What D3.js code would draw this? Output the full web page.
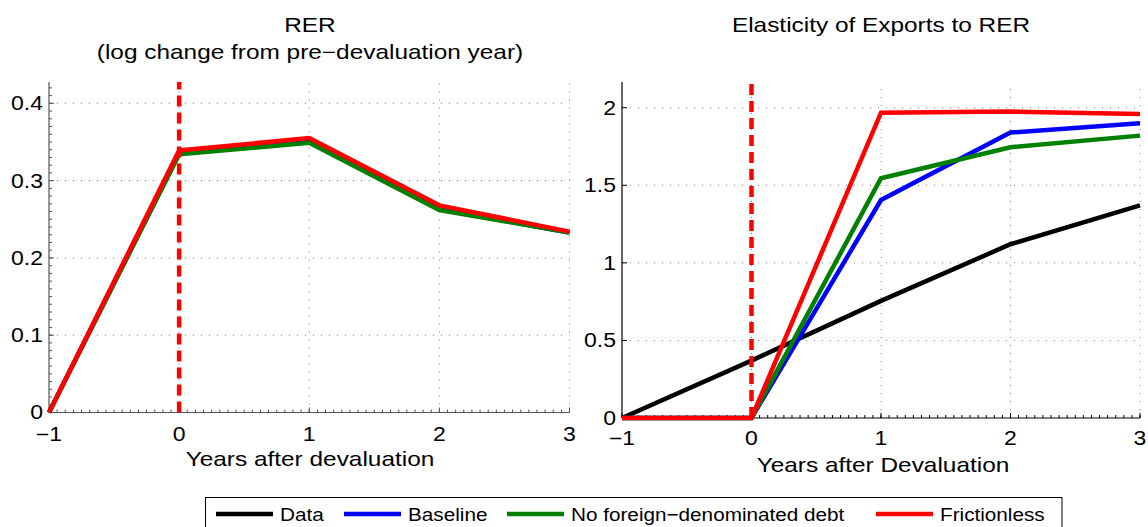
<!DOCTYPE html>
<html><head><meta charset="utf-8">
<script src="https://cdn.jsdelivr.net/npm/d3@7/dist/d3.min.js"></script>
<style>
body{margin:0;background:#fff;}
svg{display:block;font-family:"Liberation Sans",Arial,Helvetica,sans-serif;}
text{transform-box:fill-box;}
.sc{transform-origin:center;transform:scaleX(1.18);}
.st{transform-origin:center;transform:scaleX(1.22);}
.scl{transform-origin:left;transform:scaleX(1.12);}
.scr{transform-origin:right;transform:scaleX(1.18);}
</style></head><body>
<svg id="c" width="1148" height="527"></svg>
<script>
const years = [-1, 0, 1, 2, 3];
const xTicks = [-1, 0, 1, 2, 3];
const rerTicks = [0, 0.1, 0.2, 0.3, 0.4];
const rerTickLabels = ["0", "0.1", "0.2", "0.3", "0.4"];
const elasTicks = [0, 0.5, 1, 1.5, 2];
const elasTickLabels = ["0", "0.5", "1", "1.5", "2"];

const rerBaseline = [0, 0.335, 0.350, 0.263, 0.233];
const rerNoForeign = [0, 0.334, 0.349, 0.262, 0.233];
const rerFrictionless = [0, 0.339, 0.355, 0.268, 0.234];

const elasData = [0, 0.37, 0.755, 1.12, 1.37];
const elasBaseline = [0, 0, 1.405, 1.84, 1.90];
const elasNoForeign = [0, 0, 1.545, 1.745, 1.82];
const elasFrictionless = [0, 0, 1.968, 1.975, 1.96];

const seriesNames = ["Data", "Baseline", "No foreign\u2212denominated debt", "Frictionless"];
const seriesColors = ["#000000", "#0000ff", "#008000", "#ff0000"];

const svg = d3.select("#c");

function panel(opt){
  const g = svg.append("g");
  const x = d3.scaleLinear().domain([-1, 3]).range(opt.xr);
  const y = d3.scaleLinear().domain(opt.yd).range(opt.yr);
  const [x0, x1] = opt.xr, [y0, y1] = opt.yr;
  g.selectAll(".gy").data(opt.yt.slice(1)).join("line")
    .attr("x1", x0).attr("x2", x1).attr("y1", d => y(d)).attr("y2", d => y(d))
    .attr("stroke", "#777").attr("stroke-width", 1).attr("stroke-dasharray", "1,7");
  g.selectAll(".gx").data(xTicks.slice(1)).join("line")
    .attr("x1", d => x(d)).attr("x2", d => x(d)).attr("y1", y0).attr("y2", y1)
    .attr("stroke", "#777").attr("stroke-width", 1).attr("stroke-dasharray", "1,7");
  const ac = opt.axisColor;
  const minorX = d3.range(-1, 3.0001, 1/16);
  g.selectAll(".mx").data(minorX).join("line")
    .attr("x1", d => x(d)).attr("x2", d => x(d)).attr("y1", y0).attr("y2", y0 - 3)
    .attr("stroke", ac).attr("stroke-width", 1);
  if (opt.minorY) {
    const my = d3.range(opt.yd[0], opt.yd[1], opt.minorY);
    g.selectAll(".my").data(my).join("line")
      .attr("x1", x0).attr("x2", x0 + 3).attr("y1", d => y(d)).attr("y2", d => y(d))
      .attr("stroke", ac).attr("stroke-width", 1);
  }
  g.selectAll(".tx").data(xTicks).join("line")
    .attr("x1", d => x(d)).attr("x2", d => x(d)).attr("y1", y0).attr("y2", y0 - 5)
    .attr("stroke", ac).attr("stroke-width", 1);
  g.selectAll(".ty").data(opt.yt).join("line")
    .attr("x1", x0).attr("x2", x0 + 5).attr("y1", d => y(d)).attr("y2", d => y(d))
    .attr("stroke", ac).attr("stroke-width", 1);
  g.append("line").attr("x1", x0).attr("x2", x1).attr("y1", y0).attr("y2", y0).attr("stroke", ac).attr("stroke-width", 1.2);
  g.append("line").attr("x1", x0).attr("x2", x0).attr("y1", y0).attr("y2", y1).attr("stroke", ac).attr("stroke-width", 1.2);
  g.selectAll(".lx").data(xTicks).join("text")
    .attr("class", "sc").attr("x", d => x(d)).attr("y", opt.xLabY)
    .attr("text-anchor", "middle").attr("font-size", 19.5)
    .text(d => d < 0 ? "\u2212" + Math.abs(d) : String(d));
  g.selectAll(".ly").data(opt.yt).join("text")
    .attr("class", "scr").attr("x", x0 - 6).attr("y", d => y(d) + 7)
    .attr("text-anchor", "end").attr("font-size", 19.5)
    .text((d, i) => opt.ytl[i]);
  const line = d3.line().x((d, i) => x(years[i])).y(d => y(d));
  opt.series.forEach(s => {
    g.append("path").datum(s.v).attr("d", line).attr("fill", "none")
      .attr("stroke", s.c).attr("stroke-width", 4.5).attr("stroke-linejoin", "miter");
  });
  g.append("line").attr("x1", x(0)).attr("x2", x(0)).attr("y1", y0).attr("y2", y1)
    .attr("stroke", "#ff0000").attr("stroke-width", 4.5).attr("stroke-dasharray", "11,6");
  opt.title.forEach((t, i) => {
    g.append("text").attr("class", "st").attr("x", opt.titleX).attr("y", 32 + i * 27)
      .attr("text-anchor", "middle").attr("font-size", 20).text(t);
  });
  g.append("text").attr("class", "st").attr("x", opt.xlabX).attr("y", opt.xlabY)
    .attr("text-anchor", "middle").attr("font-size", 20).text(opt.xlab);
}

panel({
  xr: [49, 569.5], yr: [412.5, 82], yd: [0, 0.4276],
  yt: rerTicks, ytl: rerTickLabels, axisColor: "#555", minorY: 0.01,
  xLabY: 441, titleX: 310, title: ["RER", "(log change from pre\u2212devaluation year)"],
  xlab: "Years after devaluation", xlabX: 310, xlabY: 466,
  series: [
    {v: rerBaseline, c: seriesColors[1]},
    {v: rerNoForeign, c: seriesColors[2]},
    {v: rerFrictionless, c: seriesColors[3]}
  ]
});

panel({
  xr: [622, 1140], yr: [418, 82], yd: [0, 2.1657],
  yt: elasTicks, ytl: elasTickLabels, axisColor: "#000", minorY: 0,
  xLabY: 445, titleX: 881, title: ["Elasticity of Exports to RER"],
  xlab: "Years after Devaluation", xlabX: 883, xlabY: 472,
  series: [
    {v: elasData, c: seriesColors[0]},
    {v: elasBaseline, c: seriesColors[1]},
    {v: elasNoForeign, c: seriesColors[2]},
    {v: elasFrictionless, c: seriesColors[3]}
  ]
});

const lg = svg.append("g");
lg.append("rect").attr("x", 205.5).attr("y", 497.5).attr("width", 856.5).attr("height", 40)
  .attr("fill", "#fff").attr("stroke", "#000").attr("stroke-width", 1);
const legX = [216, 344, 507, 876];
seriesNames.forEach((n, i) => {
  lg.append("line").attr("x1", legX[i]).attr("x2", legX[i] + 57).attr("y1", 514).attr("y2", 514)
    .attr("stroke", seriesColors[i]).attr("stroke-width", 4.5);
  lg.append("text").attr("class", "scl").attr("x", legX[i] + 64).attr("y", 521)
    .attr("font-size", 18.5).text(n);
});
</script>
</body></html>
